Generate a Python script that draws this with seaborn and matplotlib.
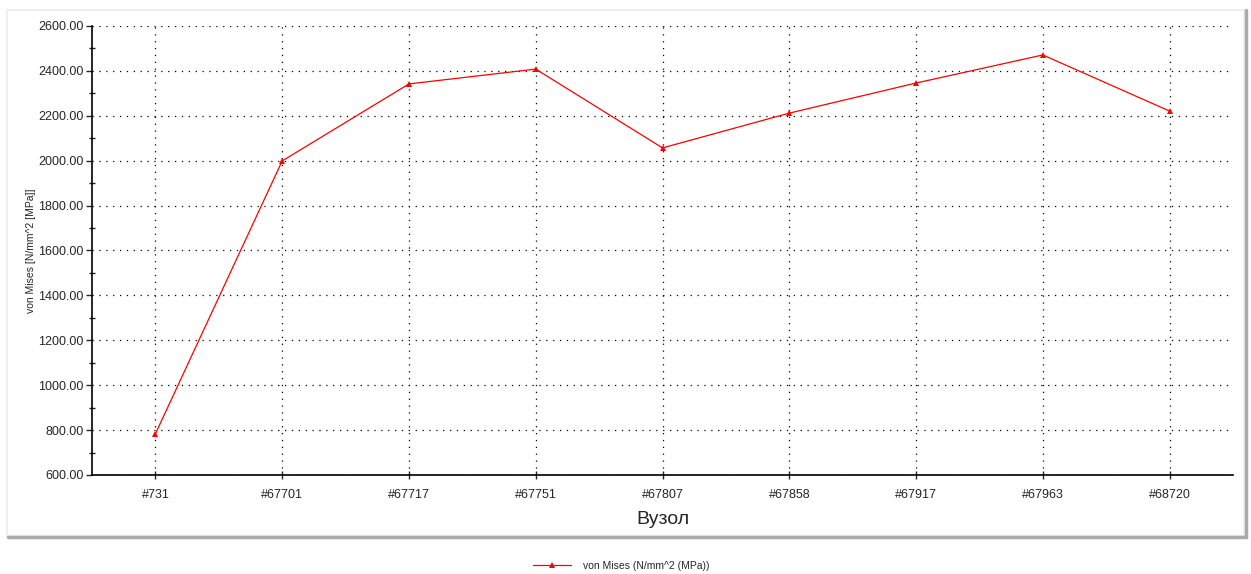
import matplotlib
matplotlib.use('Agg')
import matplotlib.pyplot as plt
from matplotlib.patches import Rectangle
from matplotlib.lines import Line2D
from matplotlib.ticker import MultipleLocator, FormatStrFormatter
import seaborn as sns
import pandas as pd

# --- дані ---
nodes = ['#731', '#67701', '#67717', '#67751', '#67807',
         '#67858', '#67917', '#67963', '#68720']
von_mises = [783, 1999, 2342, 2408, 2057, 2212, 2346, 2471, 2221]
series_name = 'von Mises (N/mm^2 (MPa))'

df = pd.DataFrame({'node': nodes, 'stress': von_mises})

sns.set_style('white')
plt.rcParams['font.family'] = ['Liberation Sans', 'DejaVu Sans']

fig = plt.figure(figsize=(12.51, 5.74), dpi=100)
ax = fig.add_axes([92 / 1251, 1 - 475 / 574, (1233 - 92) / 1251, (475 - 26) / 574])

sns.lineplot(data=df, x='node', y='stress', sort=False, color='red',
             linewidth=0.9, marker='^', markersize=4.5, markeredgewidth=0,
             label=series_name, ax=ax)

ax.set_xlim(-0.5, len(nodes) - 0.5)
ax.set_ylim(600, 2600)
ax.yaxis.set_major_locator(MultipleLocator(200))
ax.yaxis.set_minor_locator(MultipleLocator(100))
ax.yaxis.set_major_formatter(FormatStrFormatter('%.2f'))

ax.grid(True, which='major', color='black', linestyle=(0, (1, 4.5)), linewidth=0.9)
for s in ['top', 'right']:
    ax.spines[s].set_visible(False)
for s in ['left', 'bottom']:
    ax.spines[s].set_color('black')
    ax.spines[s].set_linewidth(1.2)

ax.tick_params(axis='y', which='major', direction='out', length=4, width=1,
               labelsize=9, pad=2, left=True)
ax.tick_params(axis='y', which='minor', direction='inout', length=5, width=1, left=True)
ax.tick_params(axis='x', which='major', direction='inout', length=6, width=1,
               labelsize=9, pad=7, bottom=True)

ax.set_xlabel('Вузол', fontsize=14, labelpad=7)
ax.set_ylabel('von Mises [N/mm^2 [MPa]]', fontsize=7.5)
ax.yaxis.set_label_coords(-0.049, 0.5)

# легенда під рамкою
ax.get_legend().remove()
handles = [Line2D([0], [0], color='red', linewidth=0.9, marker='^',
                  markersize=4, markeredgewidth=0)]
fig.legend(handles, [series_name], loc='center', bbox_to_anchor=(0.497, 1 - 566 / 574),
           frameon=False, fontsize=7.5, handlelength=3.6, handletextpad=1.2)

# рамка діаграми з тінню
fig.add_artist(Rectangle((7 / 1251, 1 - 536 / 574), (1244 - 7) / 1251, (536 - 10) / 574,
                         transform=fig.transFigure, fill=False,
                         edgecolor='#eeeeee', linewidth=1.5, zorder=0))
fig.add_artist(Line2D([8 / 1251, 1246 / 1251], [1 - 537 / 574] * 2,
                      transform=fig.transFigure, color='#aaaaaa', linewidth=2.5))
fig.add_artist(Line2D([1246 / 1251] * 2, [1 - 537 / 574, 1 - 10 / 574],
                      transform=fig.transFigure, color='#aaaaaa', linewidth=2.5))

fig.savefig('out.png', dpi=100)
